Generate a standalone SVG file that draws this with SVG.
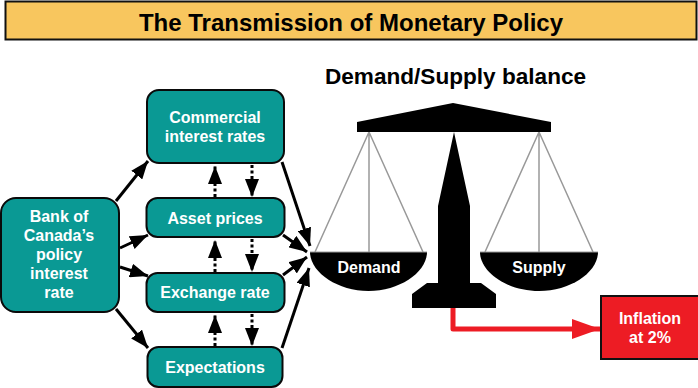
<svg xmlns="http://www.w3.org/2000/svg" width="698" height="388" viewBox="0 0 698 388">
<style>
text{font-family:"Liberation Sans",Arial,sans-serif;font-weight:700;text-anchor:middle}
.n{fill:#0a9994;stroke:#0a0a0a;stroke-width:2}
.w{fill:#fff;font-size:16px}
.c{stroke:#000;stroke-width:3;fill:none}
.d{stroke:#000;stroke-width:3;stroke-dasharray:3 2.5;fill:none}
.g{stroke:#999;stroke-width:1.5;fill:none}
</style>
<defs>
<marker id="a" markerUnits="userSpaceOnUse" markerWidth="20" markerHeight="14" refX="18" refY="7" orient="auto"><path d="M0 0L18 7L0 14z" fill="#000"/></marker>
<marker id="r" markerUnits="userSpaceOnUse" markerWidth="30" markerHeight="22" refX="28" refY="11" orient="auto"><path d="M0 1L28 11L0 21z" fill="#ed1c24"/></marker>
</defs>
<g id="title"><rect x="5.500" y="1.500" width="691" height="38" fill="#f8c65e" stroke="#111" stroke-width="2"/><text x="351" y="31" font-size="24px">The Transmission of Monetary Policy</text></g>
<text x="455.500" y="83.500" font-size="22.600px">Demand/Supply balance</text>
<g id="connectors">
<path class="c" marker-end="url(#a)" d="M116 201L148 161"/>
<path class="c" marker-end="url(#a)" d="M120 248L148 235"/>
<path class="c" marker-end="url(#a)" d="M120 267L148 276"/>
<path class="c" marker-end="url(#a)" d="M116 309L148 348"/>
<path class="c" marker-end="url(#a)" d="M282 162L310 246"/>
<path class="c" marker-end="url(#a)" d="M283 235L307 252"/>
<path class="c" marker-end="url(#a)" d="M283 275L307 257"/>
<path class="c" marker-end="url(#a)" d="M282 348L309 268"/>
<path class="d" marker-end="url(#a)" d="M215 197V166"/>
<path class="d" marker-end="url(#a)" d="M252 165V197"/>
<path class="d" marker-end="url(#a)" d="M215 272V240"/>
<path class="d" marker-end="url(#a)" d="M252 239V272"/>
<path class="d" marker-end="url(#a)" d="M215 346V315"/>
<path class="d" marker-end="url(#a)" d="M252 314V346"/>
<path stroke="#ed1c24" stroke-width="5" fill="none" marker-end="url(#r)" stroke-linejoin="round" d="M453 308V329H600"/>
</g>
<g id="bank"><rect class="n" x="1" y="198" width="118" height="114" rx="15"/><text class="w" x="59" y="222">Bank of</text><text class="w" x="59" y="241">Canada’s</text><text class="w" x="59" y="260">policy</text><text class="w" x="59" y="279">interest</text><text class="w" x="59" y="298">rate</text></g>
<g id="commercial"><rect class="n" x="147" y="90" width="137" height="73" rx="12"/><text class="w" x="215" y="123">Commercial</text><text class="w" x="215" y="142">interest rates</text></g>
<g id="asset"><rect class="n" x="146.500" y="198" width="138" height="39" rx="11"/><text class="w" x="215" y="224">Asset prices</text></g>
<g id="exchange"><rect class="n" x="146.500" y="273" width="138" height="39" rx="11"/><text class="w" x="215" y="298">Exchange rate</text></g>
<g id="expectations"><rect class="n" x="147.500" y="347" width="135" height="40" rx="11"/><text class="w" x="215" y="373">Expectations</text></g>
<g id="scale">
<path class="g" d="M369 132L315 252M369 132V252M369 132L423 252M539 132L485 252M539 132V252M539 132L593 252"/>
<path d="M357 122L453 103L551 122V132H357z"/>
<path d="M454 132L470 206V283H481L496 294V308H412V294L427 283H438V206z"/>
<path d="M310 252H427C427 272 400 291 368.500 291C337 291 310 272 310 252z"/>
<path d="M480 252H598C598 272 571 291 539 291C507 291 480 272 480 252z"/>
<path stroke="#999" stroke-width="1" d="M310 252H427M480 252H598"/>
<text class="w" x="369" y="273">Demand</text><text class="w" x="539" y="273">Supply</text>
</g>
<g id="inflation"><rect x="601" y="296" width="98" height="63" fill="#ed1c24" stroke="#111" stroke-width="2"/><text class="w" x="650" y="324">Inflation</text><text class="w" x="650" y="343">at 2%</text></g>
</svg>
